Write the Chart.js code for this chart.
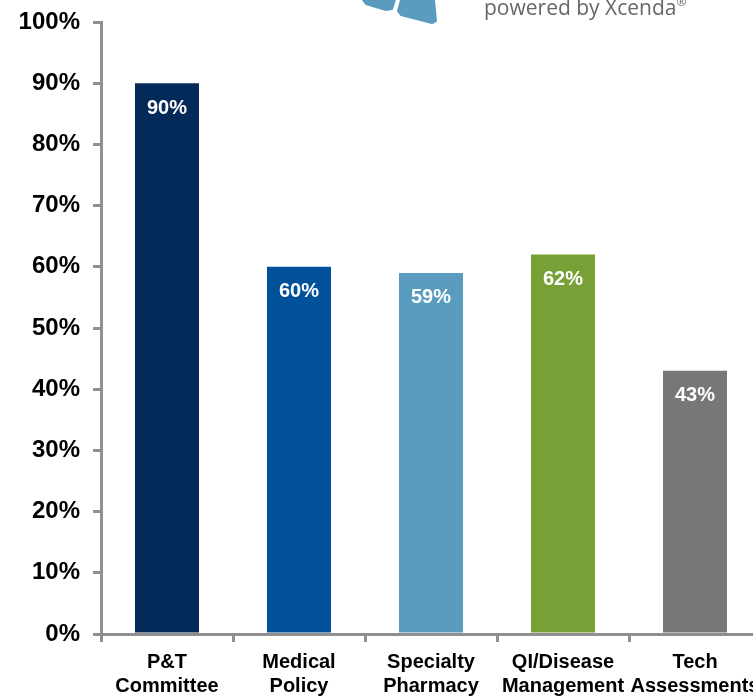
<!DOCTYPE html>
<html>
<head>
<meta charset="utf-8">
<script src="https://cdn.jsdelivr.net/npm/chart.js@4.4.0/dist/chart.umd.min.js"></script>
<style>
  html, body { margin: 0; padding: 0; background: #fff; overflow: hidden; width: 753px; height: 696px; }
  #wrap { position: absolute; left: 0; top: 0; width: 800px; height: 696px; }
  #logo { position: absolute; left: 0; top: 0; }
  #powered { position: absolute; left: 484px; top: -7px; font-family: "Open Sans", sans-serif; font-size: 21px; color: #666666; white-space: nowrap; }
  #powered sup { font-size: 12px; vertical-align: 9px; }
</style>
</head>
<body>
<div id="wrap"><canvas id="c" width="800" height="696"></canvas></div>
<svg id="logo" width="460" height="30" viewBox="0 0 460 30">
  <polygon points="363,0 395,0 392,9 386,10 366,4" fill="#5a9cc0" stroke="#5a9cc0" stroke-width="2" stroke-linejoin="round"/>
  <polygon points="401,0 434,0 436,21 432,23 401,15 398,11" fill="#5a9cc0" stroke="#5a9cc0" stroke-width="2" stroke-linejoin="round"/>
</svg>
<div id="powered">powered by Xcenda<sup>®</sup></div>
<script>
const categories = [["P&T", "Committee"], ["Medical", "Policy"], ["Specialty", "Pharmacy"], ["QI/Disease", "Management"], ["Tech", "Assessments"]];
const values = [90, 60, 59, 62, 43];
const barColors = ["#042a5a", "#00519a", "#599cc0", "#77a136", "#777777"];
const yTicks = [0, 10, 20, 30, 40, 50, 60, 70, 80, 90, 100];

const FONT = '"Liberation Sans", Arial, sans-serif';
const axisGray = "#8f8f8f";

const valueLabels = {
  id: "valueLabels",
  afterDatasetsDraw(chart) {
    const ctx = chart.ctx;
    const meta = chart.getDatasetMeta(0);
    ctx.save();
    ctx.font = "bold 20px " + FONT;
    ctx.fillStyle = "#ffffff";
    ctx.textAlign = "center";
    ctx.textBaseline = "middle";
    meta.data.forEach((bar, i) => {
      ctx.fillText(values[i] + "%", bar.x, bar.y + 25);
    });
    ctx.restore();
  }
};

new Chart(document.getElementById("c"), {
  type: "bar",
  data: {
    labels: categories,
    datasets: [{
      data: values,
      backgroundColor: barColors,
      borderWidth: 0,
      barPercentage: 1,
      categoryPercentage: 0.485
    }]
  },
  options: {
    responsive: false,
    animation: false,
    layout: { padding: { top: 22, right: 39, bottom: 0, left: 0 } },
    plugins: { legend: { display: false }, tooltip: { enabled: false } },
    scales: {
      x: {
        offset: true,
        grid: { drawOnChartArea: false, drawTicks: true, tickLength: 8, color: axisGray, lineWidth: 3, offset: true },
        border: { display: true, color: axisGray, width: 3 },
        ticks: {
          color: "#000000",
          font: { family: FONT, size: 20, weight: "bold", lineHeight: 1.2 },
          padding: 8,
          maxRotation: 0,
          autoSkip: false
        },
        afterFit(scale) { scale.height = 62; }
      },
      y: {
        min: 0,
        max: 100,
        afterBuildTicks(scale) { scale.ticks = yTicks.map(v => ({ value: v })); },
        grid: { drawOnChartArea: false, drawTicks: true, tickLength: 8, color: axisGray, lineWidth: 3 },
        border: { display: true, color: axisGray, width: 3 },
        ticks: {
          color: "#000000",
          font: { family: FONT, size: 24, weight: "bold" },
          padding: 13,
          callback: v => v + "%"
        },
        afterFit(scale) { scale.width = 101; scale.paddingTop = 0; scale.paddingBottom = 0; }
      }
    }
  },
  plugins: [valueLabels]
});
</script>
</body>
</html>
